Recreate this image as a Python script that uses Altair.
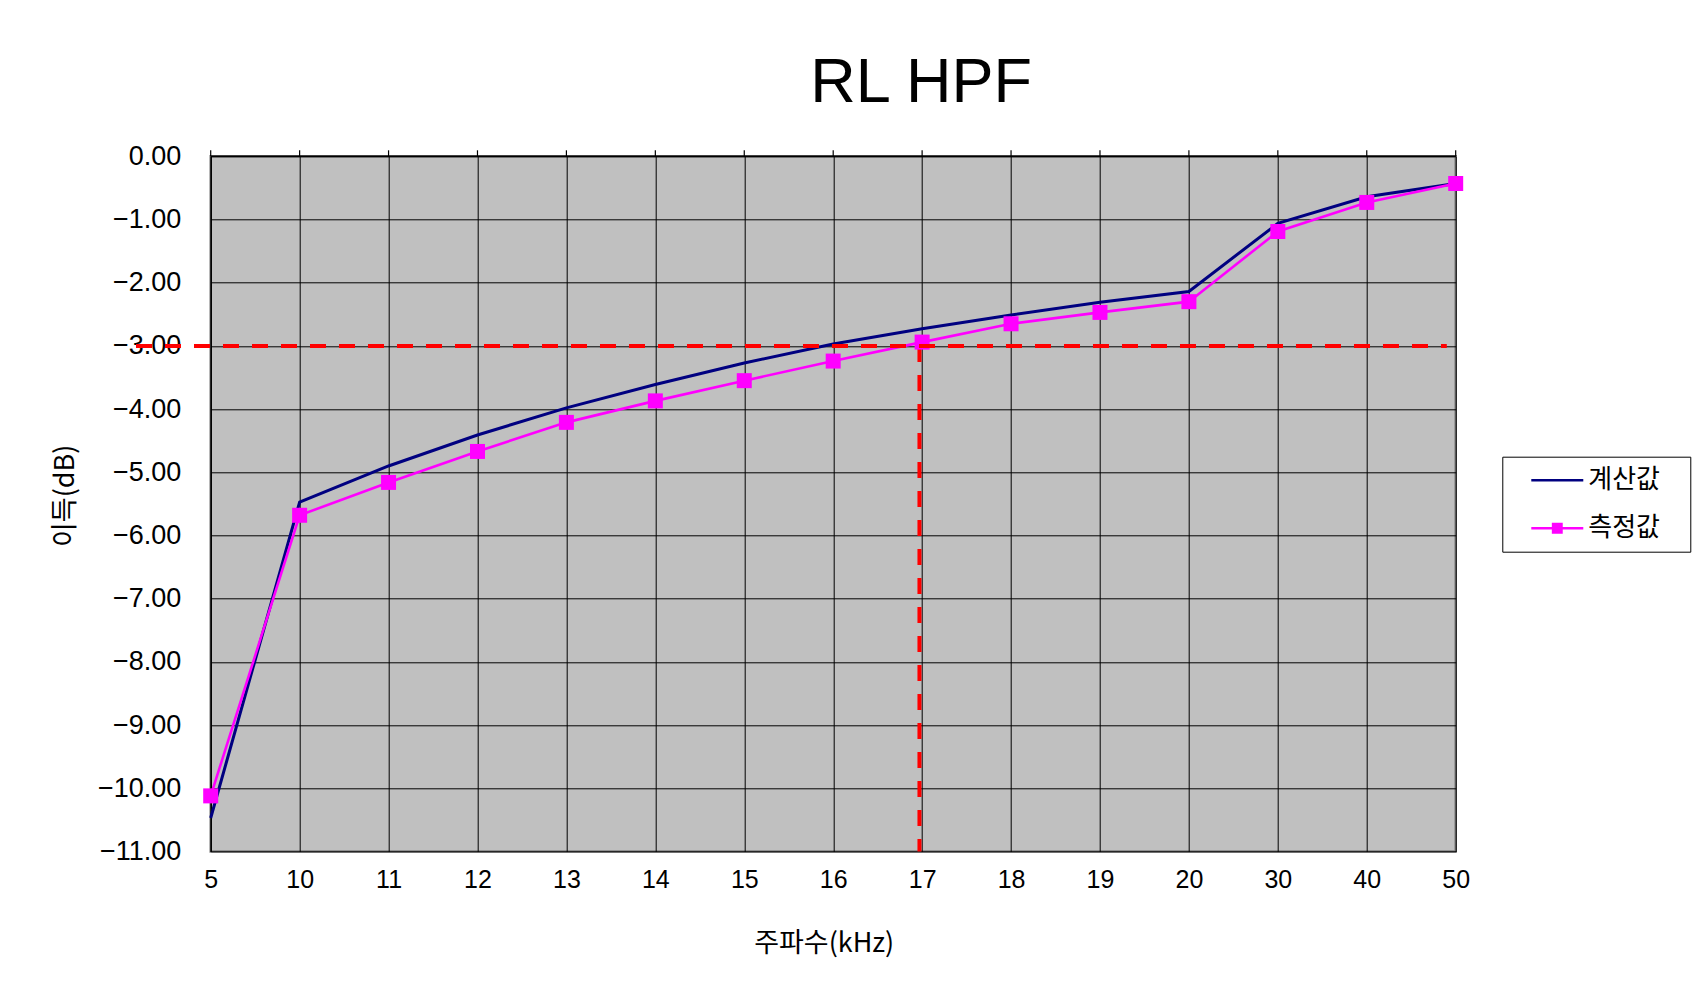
import json
import altair as alt
import pandas as pd

# ---------------- data ----------------
freq_labels = ["5", "10", "11", "12", "13", "14", "15", "16", "17", "18", "19", "20", "30", "40", "50"]
calc_values = [-10.47, -5.47, -4.90, -4.41, -3.98, -3.61, -3.27, -2.97, -2.73, -2.51, -2.31, -2.14, -1.06, -0.64, -0.43]
meas_values = [-10.12, -5.68, -5.16, -4.67, -4.21, -3.87, -3.55, -3.24, -2.94, -2.65, -2.47, -2.30, -1.19, -0.73, -0.43]
series_names = ["계산값", "측정값"]
series_colors = ["#000080", "#FF00FF"]
y_ticks = [0, -1, -2, -3, -4, -5, -6, -7, -8, -9, -10, -11]
ref_level = [-3.0]              # -3 dB reference line
ref_span = [-0.84, 13.9]        # extent of the -3 dB line, in category positions
cutoff_pos = [7.97]             # 17 kHz marker (category position)
cutoff_span = [-3.0, -11.0]

# ---------------- tables ----------------
positions = list(range(len(freq_labels)))
df_calc = pd.DataFrame({"pos": positions, "freq": freq_labels, "gain": calc_values})
df_meas = pd.DataFrame({"pos": positions, "freq": freq_labels, "gain": meas_values})
df_series = pd.DataFrame({"series": series_names})
df_h = pd.DataFrame({"hx": [ref_span[0]], "hx2": [ref_span[1]], "hy": ref_level})
df_v = pd.DataFrame({"vx": cutoff_pos, "vy": [cutoff_span[0]], "vy2": [cutoff_span[1]]})
TICK_UNITS = 0.095  # outward tick length of the category axis (crossing at 0 dB)
df_top = pd.DataFrame({"pos": positions, "ty": [max(y_ticks)] * len(positions),
                       "ty2": [max(y_ticks) + TICK_UNITS] * len(positions)})
df_top_line = pd.DataFrame({"lx": [positions[0]], "lx2": [positions[-1]], "ly": [max(y_ticks)]})

x_scale = alt.Scale(domain=[positions[0], positions[-1]], nice=False, zero=False)
y_scale = alt.Scale(domain=[min(y_ticks), max(y_ticks)], nice=False, zero=False)
stroke_scale = alt.Scale(domain=series_names, range=series_colors)
fill_scale = alt.Scale(domain=series_names, range=series_colors)
shape_scale = alt.Scale(
    domain=series_names,
    range=["M-2.6,0H2.6",
           "M-2.6,0H2.6M-0.42,-0.42H0.42V0.42H-0.42Z"],
)

label_expr = json.dumps(freq_labels) + "[datum.value]"

FONT_NUM = "Liberation Sans"
FONT_KR = "Noto Sans CJK KR"

x_axis = alt.Axis(
    values=positions, labelExpr=label_expr,
    title="주파수(kHz)", grid=True, gridColor="#000000", gridWidth=1,
    domain=False, ticks=False, tickSize=0, labelPadding=16,
    labelFont=FONT_NUM, labelFontSize=25, labelColor="#000000",
    labelFlush=False, labelOverlap=False, zindex=0,
    titleFont=FONT_KR, titleFontSize=27, titleFontWeight="normal", titleColor="#000000",
    titleX=613, titleY=92, titleBaseline="middle", titleAlign="center",
)
y_axis = alt.Axis(
    values=y_ticks, format=".2f", grid=True, gridColor="#000000", gridWidth=1,
    domain=True, domainColor="#000000", domainWidth=1.5, ticks=False, tickSize=0,
    labelPadding=30, labelFont=FONT_NUM, labelFontSize=27, labelColor="#000000",
    labelFlush=False, labelOverlap=False, zindex=0,
    title="이득(dB)", titleFont=FONT_KR, titleFontSize=27, titleFontWeight="normal",
    titleColor="#000000", titleAngle=270, titleX=-145, titleY=339,
    titleBaseline="middle", titleAlign="center",
)

legend = alt.Legend(
    title=None, orient="none", legendX=1291.6, legendY=300.4,
    padding=10.5, rowPadding=22, labelOffset=18, symbolOffset=31.5,
    labelFont=FONT_KR, labelFontSize=26, labelColor="#000000",
    labelExpr="datum.label + '\u2800'",
    symbolSize=400, symbolStrokeWidth=2.5, symbolOpacity=1,
    strokeColor="#000000", fillColor="#FFFFFF", cornerRadius=0,
)

legend_layer = alt.Chart(df_series).transform_filter("false").mark_point(
    filled=True, opacity=1, strokeWidth=2.5
).encode(
    shape=alt.Shape("series:N", scale=shape_scale, legend=legend),
    fill=alt.Fill("series:N", scale=fill_scale, legend=legend),
    stroke=alt.Stroke("series:N", scale=stroke_scale, legend=legend),
)
v_rule = alt.Chart(df_v).mark_rule(color="#FF0000", strokeWidth=4, strokeDash=[16, 13]).encode(
    x=alt.X("vx:Q", scale=x_scale, axis=x_axis),
    y=alt.Y("vy:Q", scale=y_scale, axis=y_axis),
    y2="vy2:Q",
)
h_rule = alt.Chart(df_h).mark_rule(
    color="#FF0000", strokeWidth=4, strokeDash=[16, 13], clip=False
).encode(
    x=alt.X("hx:Q", scale=x_scale),
    x2="hx2:Q",
    y=alt.Y("hy:Q", scale=y_scale),
)
top_line = alt.Chart(df_top_line).mark_rule(color="#000000", strokeWidth=1.5).encode(
    x=alt.X("lx:Q", scale=x_scale), x2="lx2:Q", y=alt.Y("ly:Q", scale=y_scale),
)
top_ticks = alt.Chart(df_top).mark_rule(color="#000000", strokeWidth=1.2).encode(
    x=alt.X("pos:Q", scale=x_scale), y=alt.Y("ty:Q", scale=y_scale), y2="ty2:Q",
)
calc_line = alt.Chart(df_calc).mark_line(strokeWidth=3, color=series_colors[0]).encode(
    x=alt.X("pos:Q", scale=x_scale),
    y=alt.Y("gain:Q", scale=y_scale),
)
meas_line = alt.Chart(df_meas).mark_line(strokeWidth=2.6, color=series_colors[1]).encode(
    x=alt.X("pos:Q", scale=x_scale),
    y=alt.Y("gain:Q", scale=y_scale),
)
meas_pts = alt.Chart(df_meas).mark_square(size=225, color=series_colors[1], opacity=1).encode(
    x=alt.X("pos:Q", scale=x_scale),
    y=alt.Y("gain:Q", scale=y_scale),
)

chart = alt.layer(
    legend_layer, v_rule, top_line, top_ticks, calc_line, meas_line, meas_pts, h_rule
).properties(
    width=1245, height=695.2,
    padding={"left": 202.7, "top": 148.3, "right": 240, "bottom": 140},
    autosize=alt.AutoSizeParams(type="none"),
    background="#FFFFFF",
    title=alt.TitleParams(
        text="RL HPF", font=FONT_NUM, fontSize=63, fontWeight="normal", color="#000000",
        anchor="middle", frame="group", dx=88, dy=23, offset=0, baseline="alphabetic",
    ),
).configure_view(
    fill="#C0C0C0", stroke="#808080", strokeWidth=2.5,
)

chart.save("out.html", embed_options={"renderer": "svg", "actions": False})
